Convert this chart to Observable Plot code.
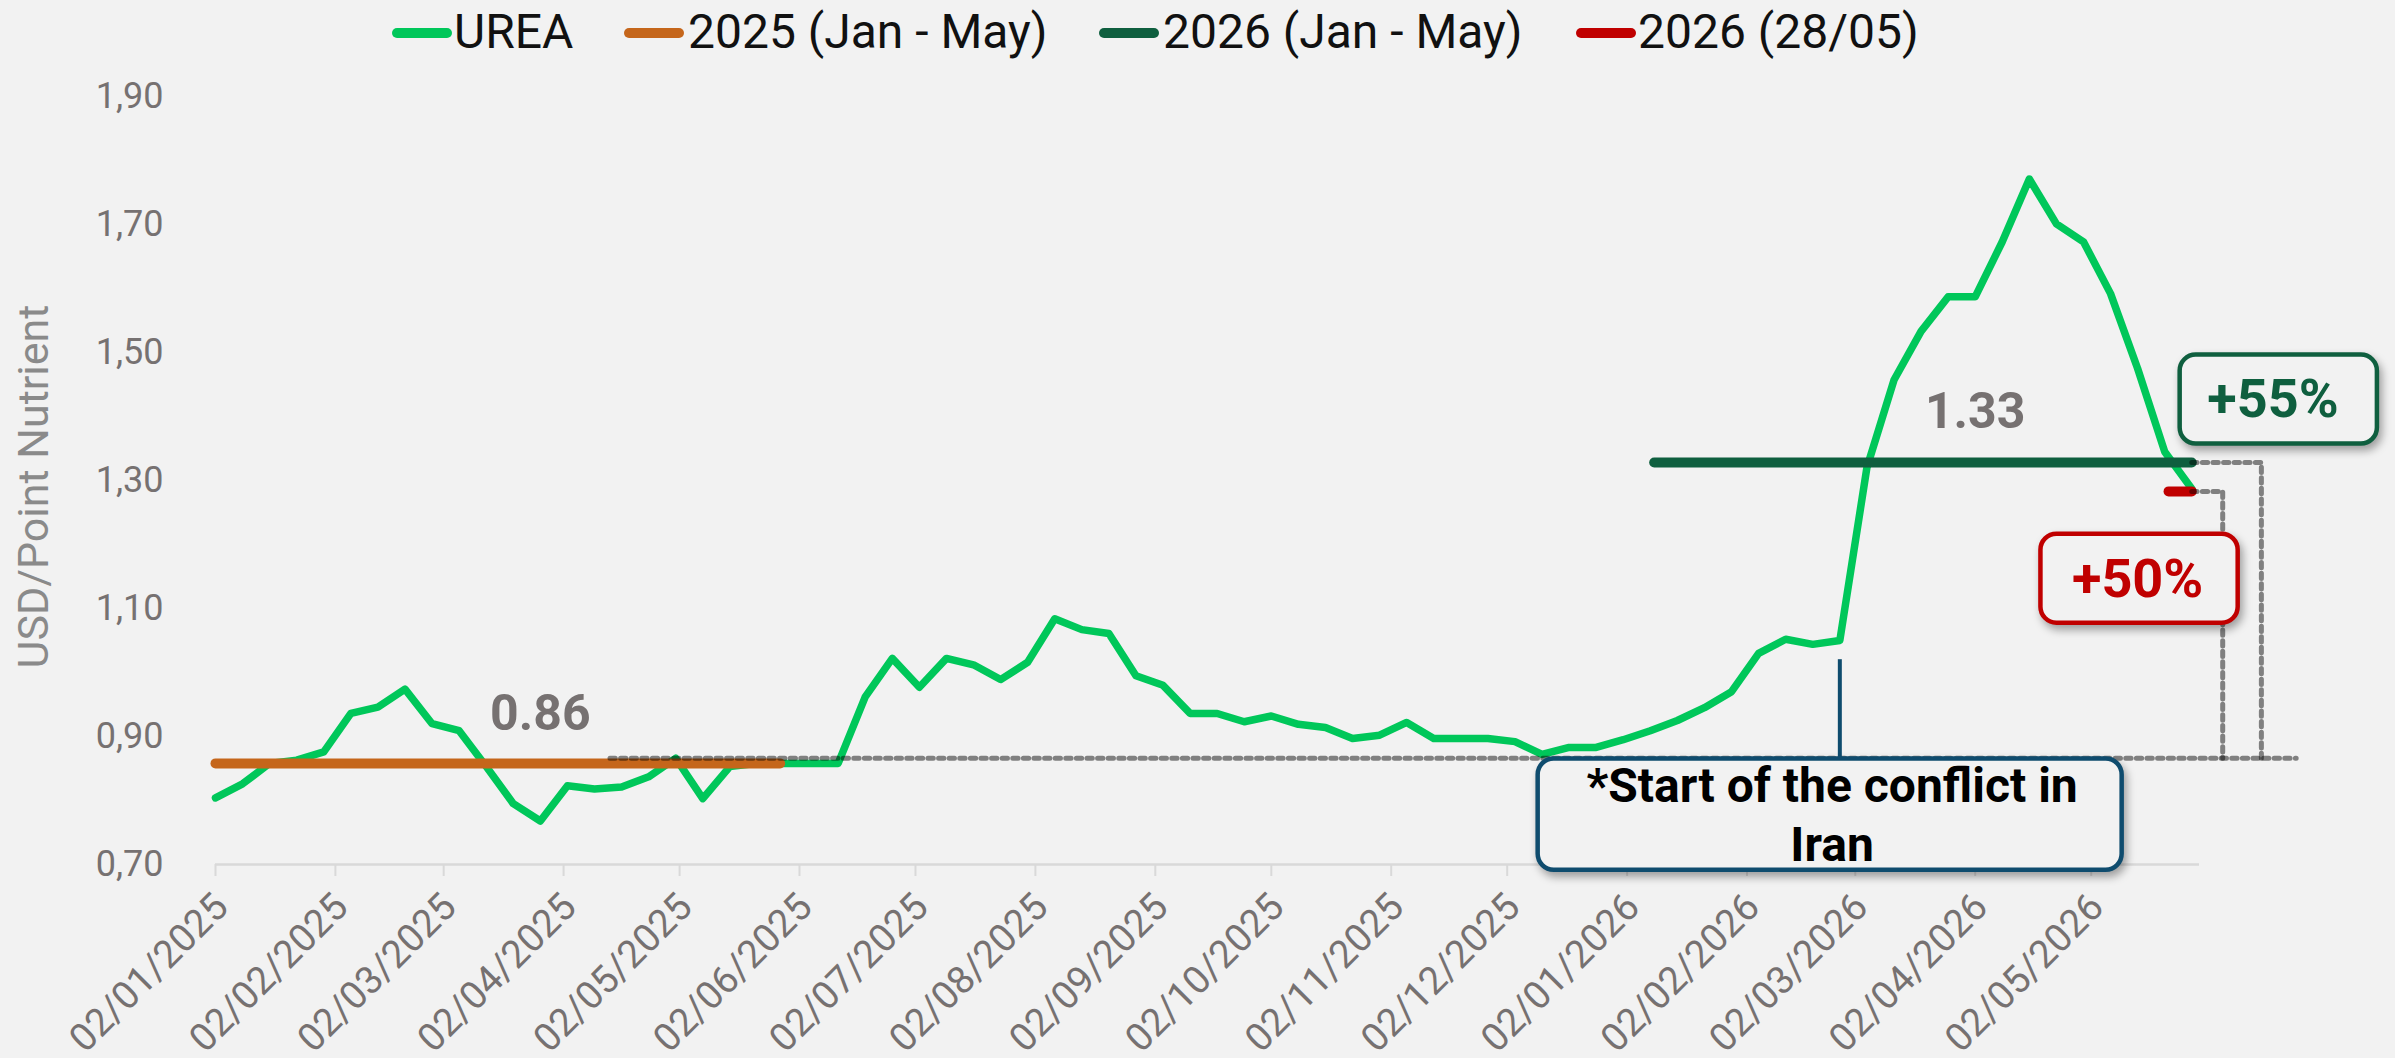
<!DOCTYPE html>
<html>
<head>
<meta charset="utf-8">
<script src="https://cdn.jsdelivr.net/npm/d3@7"></script>
<script src="https://cdn.jsdelivr.net/npm/@observablehq/plot@0.6"></script>
<style>
  html, body { margin: 0; padding: 0; background: #f2f2f2; overflow: hidden; }
  #wrap { position: relative; width: 2395px; height: 1058px; background: #f2f2f2; font-family: Roboto, "Noto Sans", sans-serif; }
  #legend { position: relative; width: 2395px; height: 62px; }
  .lg-sw { position: absolute; height: 10px; width: 60px; border-radius: 5px; top: 28px; }
  .lg-tx { position: absolute; top: 8px; font-size: 48px; line-height: 48px; color: #111; white-space: nowrap; }
</style>
</head>
<body>
<div id="wrap">
  <div id="legend"></div>
  <div id="chart"></div>
</div>
<script>
// ---------- data ----------
const dates = [
  "2025-01-02","2025-01-09","2025-01-16","2025-01-23","2025-01-30",
  "2025-02-06","2025-02-13","2025-02-20","2025-02-27",
  "2025-03-06","2025-03-13","2025-03-20","2025-03-27",
  "2025-04-03","2025-04-10","2025-04-17","2025-04-24",
  "2025-05-01","2025-05-08","2025-05-15","2025-05-22","2025-05-29",
  "2025-06-05","2025-06-12","2025-06-19","2025-06-26",
  "2025-07-03","2025-07-10","2025-07-17","2025-07-24","2025-07-31",
  "2025-08-07","2025-08-14","2025-08-21","2025-08-28",
  "2025-09-04","2025-09-11","2025-09-18","2025-09-25",
  "2025-10-02","2025-10-09","2025-10-16","2025-10-23","2025-10-30",
  "2025-11-06","2025-11-13","2025-11-20","2025-11-27",
  "2025-12-04","2025-12-11","2025-12-18","2025-12-25",
  "2026-01-01","2026-01-08","2026-01-15","2026-01-22","2026-01-29",
  "2026-02-05","2026-02-12","2026-02-19","2026-02-26",
  "2026-03-05","2026-03-12","2026-03-19","2026-03-26",
  "2026-04-02","2026-04-09","2026-04-16","2026-04-23","2026-04-30",
  "2026-05-07","2026-05-14","2026-05-21","2026-05-28"
];
const urea = [
  0.804,0.826,0.858,0.863,0.876,
  0.936,0.946,0.974,0.920,
  0.909,0.853,0.795,0.768,
  0.823,0.818,0.821,0.837,
  0.866,0.803,0.853,0.858,0.858,
  0.858,0.858,0.962,1.022,
  0.977,1.022,1.012,0.989,1.016,
  1.084,1.067,1.061,0.995,
  0.980,0.936,0.936,0.923,
  0.932,0.919,0.914,0.897,0.902,
  0.922,0.897,0.897,0.897,
  0.892,0.872,0.883,0.883,
  0.895,0.909,0.925,0.945,0.970,
  1.030,1.052,1.044,1.050,
  1.320,1.457,1.533,1.587,
  1.587,1.673,1.771,1.701,1.673,
  1.592,1.475,1.345,1.287
];
const legendLabels = ["UREA", "2025 (Jan - May)", "2026 (Jan - May)", "2026 (28/05)"];

const avg2025 = 0.858, avg2025Span = ["2025-01-02", "2025-05-28"];
const avg2026 = 1.328, avg2026Span = ["2026-01-09", "2026-05-28"];
const last2026 = 1.283, lastSpan = ["2026-05-22", "2026-05-28"];
const baseLevel = 0.866, baseSpan = ["2025-04-14", "2026-06-24"];
const link55Date = "2026-06-15", link50Date = "2026-06-05";

const xTicks = ["2025-01-02","2025-02-02","2025-03-02","2025-04-02","2025-05-02","2025-06-02",
  "2025-07-02","2025-08-02","2025-09-02","2025-10-02","2025-11-02","2025-12-02",
  "2026-01-02","2026-02-02","2026-03-02","2026-04-02","2026-05-02"];
const yTicks = [0.70, 0.90, 1.10, 1.30, 1.50, 1.70, 1.90];
const xDomain = ["2025-01-02", "2026-05-30"];
const yDomain = [0.70, 1.90];

const conflictDate = "2026-02-26", conflictTop = 1.02;
const boxes = [
  {key: "conflict", x1: "2025-12-10", x2: "2026-05-10", y1: 0.691, y2: 0.865},
  {key: "p55", x1: "2026-05-25", x2: "2026-07-15", y1: 1.357, y2: 1.496},
  {key: "p50", x1: "2026-04-19", x2: "2026-06-09", y1: 1.077, y2: 1.216}
];
const boxTexts = [
  {key: "conflict", date: "2026-02-24", value: 0.822, text: "*Start of the conflict in"},
  {key: "conflict", date: "2026-02-24", value: 0.730, text: "Iran"},
  {key: "p55", date: "2026-06-18", value: 1.426, text: "+55%"},
  {key: "p50", date: "2026-05-14", value: 1.145, text: "+50%"}
];
const valueLabels = [
  {date: "2025-03-27", value: 0.935, text: "0.86"},
  {date: "2026-04-02", value: 1.407, text: "1.33"}
];

// ---------- styles ----------
const C = {
  urea: "#00c75a", y2025: "#c5661b", y2026: "#0f5f3f", last: "#c00000",
  conflict: "#0f4c6e", tick: "#767171", axis: "#d9d9d9"
};
const legendColors = [C.urea, C.y2025, C.y2026, C.last];
const legendSw = [392, 624, 1099, 1576];
const legendTx = [454, 688, 1163, 1638];
const boxColor = {conflict: C.conflict, p55: C.y2026, p50: C.last};
const textColor = {conflict: "#000", p55: C.y2026, p50: C.last};
const textSize = {conflict: 48, p55: 54, p50: 54};

// ---------- build ----------
const D = s => new Date(s + "T00:00:00Z");
const series = dates.map((d, i) => ({date: D(d), value: urea[i]}));
const seg = (span, v) => span.map(s => ({date: D(s), value: v}));

const legend = document.getElementById("legend");
legendLabels.forEach((lab, i) => {
  const sw = document.createElement("div");
  sw.className = "lg-sw"; sw.style.left = legendSw[i] + "px"; sw.style.background = legendColors[i];
  const tx = document.createElement("div");
  tx.className = "lg-tx"; tx.style.left = legendTx[i] + "px"; tx.textContent = lab;
  legend.appendChild(sw); legend.appendChild(tx);
});

const dotted = {stroke: "#000", strokeOpacity: 0.47, strokeWidth: 5, strokeDasharray: "5.3,5.3"};

const plot = Plot.plot({
  width: 2395,
  height: 996,
  marginLeft: 215,
  marginRight: 196,
  marginTop: 34,
  marginBottom: 194,
  style: {background: "transparent", fontFamily: "Roboto, 'Noto Sans', sans-serif", overflow: "visible"},
  x: {type: "utc", domain: xDomain.map(D)},
  y: {domain: yDomain},
  marks: [
    Plot.ruleY([0.70], {stroke: C.axis, strokeWidth: 2.5}),
    // tick marks only
    Plot.axisX({
      ticks: xTicks.map(D), tickFormat: () => "", tickSize: 12,
      stroke: C.axis, strokeWidth: 2, label: null
    }),
    // rotated tick labels only
    Plot.axisX({
      ticks: xTicks.map(D), tickFormat: d3.utcFormat("%d/%m/%Y"),
      tickRotate: -45, tickSize: 0, tickPadding: 36, fontSize: 38.5, dx: 6,
      fill: C.tick, label: null
    }),
    Plot.axisY({
      ticks: yTicks, tickFormat: d => d.toFixed(2).replace(".", ","),
      tickSize: 0, tickPadding: 52, fontSize: 36, fill: C.tick, label: null
    }),
    Plot.text(["USD/Point Nutrient"], {
      frameAnchor: "left", textAnchor: "middle", dx: -181, dy: 6, rotate: -90, fontSize: 43, fill: "#8a8a8a"
    }),
    Plot.line(series, {x: "date", y: "value", stroke: C.urea, strokeWidth: 7.5, strokeLinejoin: "round"}),
    Plot.line(seg(avg2025Span, avg2025), {x: "date", y: "value", stroke: C.y2025, strokeWidth: 10, strokeLinecap: "round"}),
    Plot.line(seg(avg2026Span, avg2026), {x: "date", y: "value", stroke: C.y2026, strokeWidth: 10, strokeLinecap: "round"}),
    Plot.line(seg(lastSpan, last2026), {x: "date", y: "value", stroke: C.last, strokeWidth: 10, strokeLinecap: "round"}),
    Plot.line(seg(baseSpan, baseLevel), {x: "date", y: "value", ...dotted}),
    Plot.line([
      {date: D(avg2026Span[1]), value: avg2026}, {date: D(link55Date), value: avg2026}, {date: D(link55Date), value: baseLevel}
    ], {x: "date", y: "value", ...dotted}),
    Plot.line([
      {date: D(lastSpan[1]), value: last2026}, {date: D(link50Date), value: last2026}, {date: D(link50Date), value: baseLevel}
    ], {x: "date", y: "value", ...dotted}),
    Plot.ruleX([D(conflictDate)], {y1: boxes[0].y2, y2: conflictTop, stroke: C.conflict, strokeWidth: 4}),
    Plot.rect(boxes, {
      x1: d => D(d.x1), x2: d => D(d.x2), y1: "y1", y2: "y2",
      fill: "#f2f2f2", stroke: d => boxColor[d.key], strokeWidth: 4.5, rx: 16
    }),
    Plot.text(boxTexts, {
      x: d => D(d.date), y: "value", text: "text",
      fill: d => textColor[d.key], fontSize: d => textSize[d.key], fontWeight: 700
    }),
    Plot.text(valueLabels, {
      x: d => D(d.date), y: "value", text: "text", fill: C.tick, fontSize: 50, fontWeight: 700
    })
  ]
});
plot.querySelectorAll('g[aria-label="rect"] rect').forEach(r => {
  r.style.filter = "drop-shadow(3px 5px 4px rgba(0,0,0,0.35))";
});
// measure rotated x labels to keep them aligned like the reference
document.getElementById("chart").appendChild(plot);
</script>
</body>
</html>
